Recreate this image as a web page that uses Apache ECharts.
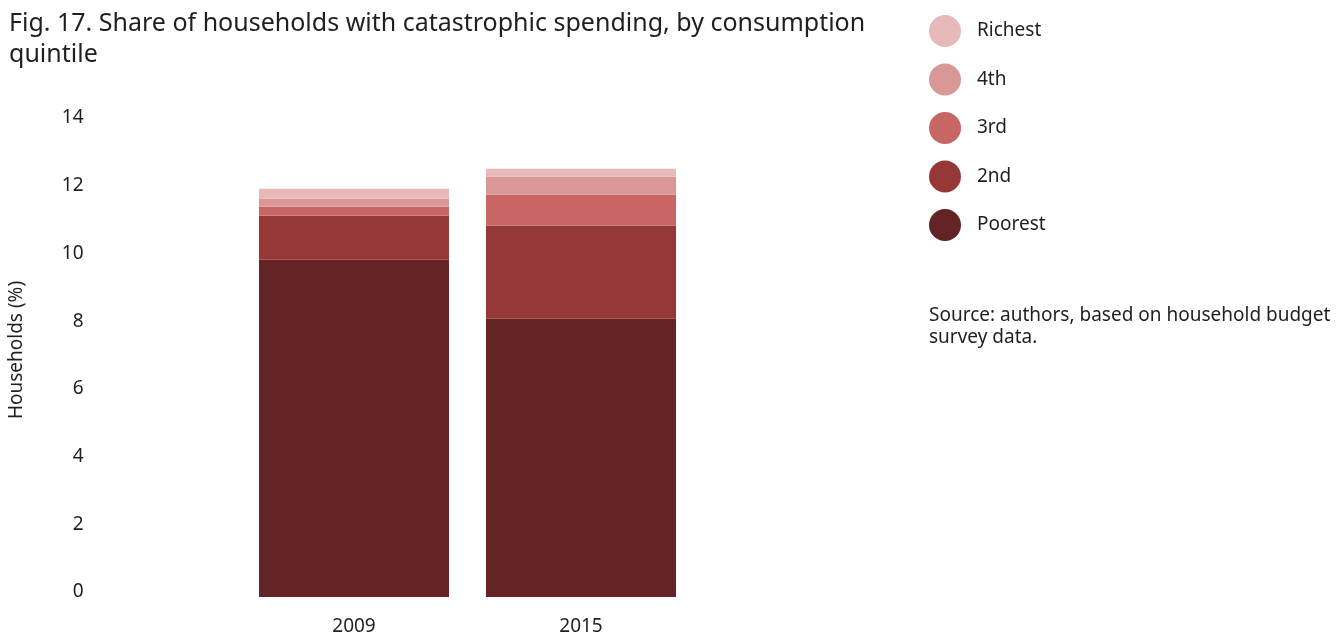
<!DOCTYPE html>
<html>
<head>
<meta charset="utf-8">
<script src="https://cdn.jsdelivr.net/npm/echarts@6/dist/echarts.min.js"></script>
<style>
  html, body { margin: 0; padding: 0; background: #fff; }
  #chart { width: 1340px; height: 636px; }
</style>
</head>
<body>
<div id="chart"></div>
<script>
const categories = ['2009', '2015'];
const poorest = [9.96, 8.22];
const second = [1.30, 2.75];
const third = [0.27, 0.91];
const fourth = [0.24, 0.53];
const richest = [0.29, 0.24];
const yTicks = [0, 2, 4, 6, 8, 10, 12, 14];

const seriesNames = ['Poorest', '2nd', '3rd', '4th', 'Richest'];
const seriesData = [poorest, second, third, fourth, richest];
const colors = ['#642325', '#963837', '#C86665', '#D99796', '#E7B9B8'];
const font = '"Noto Sans", "Open Sans", sans-serif';
const textColor = '#1f1f1f';

const chart = echarts.init(document.getElementById('chart'), null, { renderer: 'canvas' });
chart.setOption({
  animation: false,
  backgroundColor: '#ffffff',
  title: {
    text: 'Fig. 17. Share of households with catastrophic spending, by consumption\nquintile',
    left: 9,
    top: 8,
    padding: 0,
    textStyle: { fontFamily: font, fontSize: 25, fontWeight: 'normal', color: textColor, lineHeight: 31 }
  },
  legend: {
    orient: 'vertical',
    left: 929,
    top: 15,
    padding: 0,
    icon: 'circle',
    itemWidth: 32,
    itemHeight: 32,
    itemGap: 16.5,
    data: ['Richest', '4th', '3rd', '2nd', 'Poorest'],
    selectedMode: false,
    textStyle: { fontFamily: font, fontSize: 19, color: textColor, padding: [0, 0, 0, 11] }
  },
  graphic: [
    {
      type: 'text',
      left: 929,
      top: 305,
      style: {
        text: 'Source: authors, based on household budget\nsurvey data.',
        font: '19px "Noto Sans", "Open Sans", sans-serif',
        fill: textColor,
        lineHeight: 22
      }
    },
    {
      type: 'text',
      x: 17,
      y: 350,
      rotation: Math.PI / 2,
      style: {
        text: 'Households (%)',
        font: '19px "Noto Sans", "Open Sans", sans-serif',
        fill: textColor,
        align: 'center',
        verticalAlign: 'middle'
      }
    }
  ],
  grid: { left: 240.5, right: 645.5, top: 123, bottom: 38.5, containLabel: false },
  xAxis: {
    type: 'category',
    data: categories,
    axisLine: { show: false },
    axisTick: { show: false },
    axisLabel: { fontFamily: font, fontSize: 19, color: textColor, margin: 20 }
  },
  yAxis: {
    type: 'value',
    min: 0,
    max: 14,
    interval: 2,
    axisLine: { show: false },
    axisTick: { show: false },
    splitLine: { show: false },
    axisLabel: {
      fontFamily: font, fontSize: 19, color: textColor, margin: 157,
      verticalAlign: 'bottom',
      lineHeight: 10,
      formatter: function (v) { return yTicks.indexOf(v) >= 0 ? String(v) : ''; }
    }
  },
  series: seriesNames.map((name, i) => ({
    name: name,
    type: 'bar',
    stack: 'total',
    barWidth: 190,
    data: seriesData[i],
    itemStyle: { color: colors[i] },
    emphasis: { disabled: true }
  }))
});
</script>
</body>
</html>
